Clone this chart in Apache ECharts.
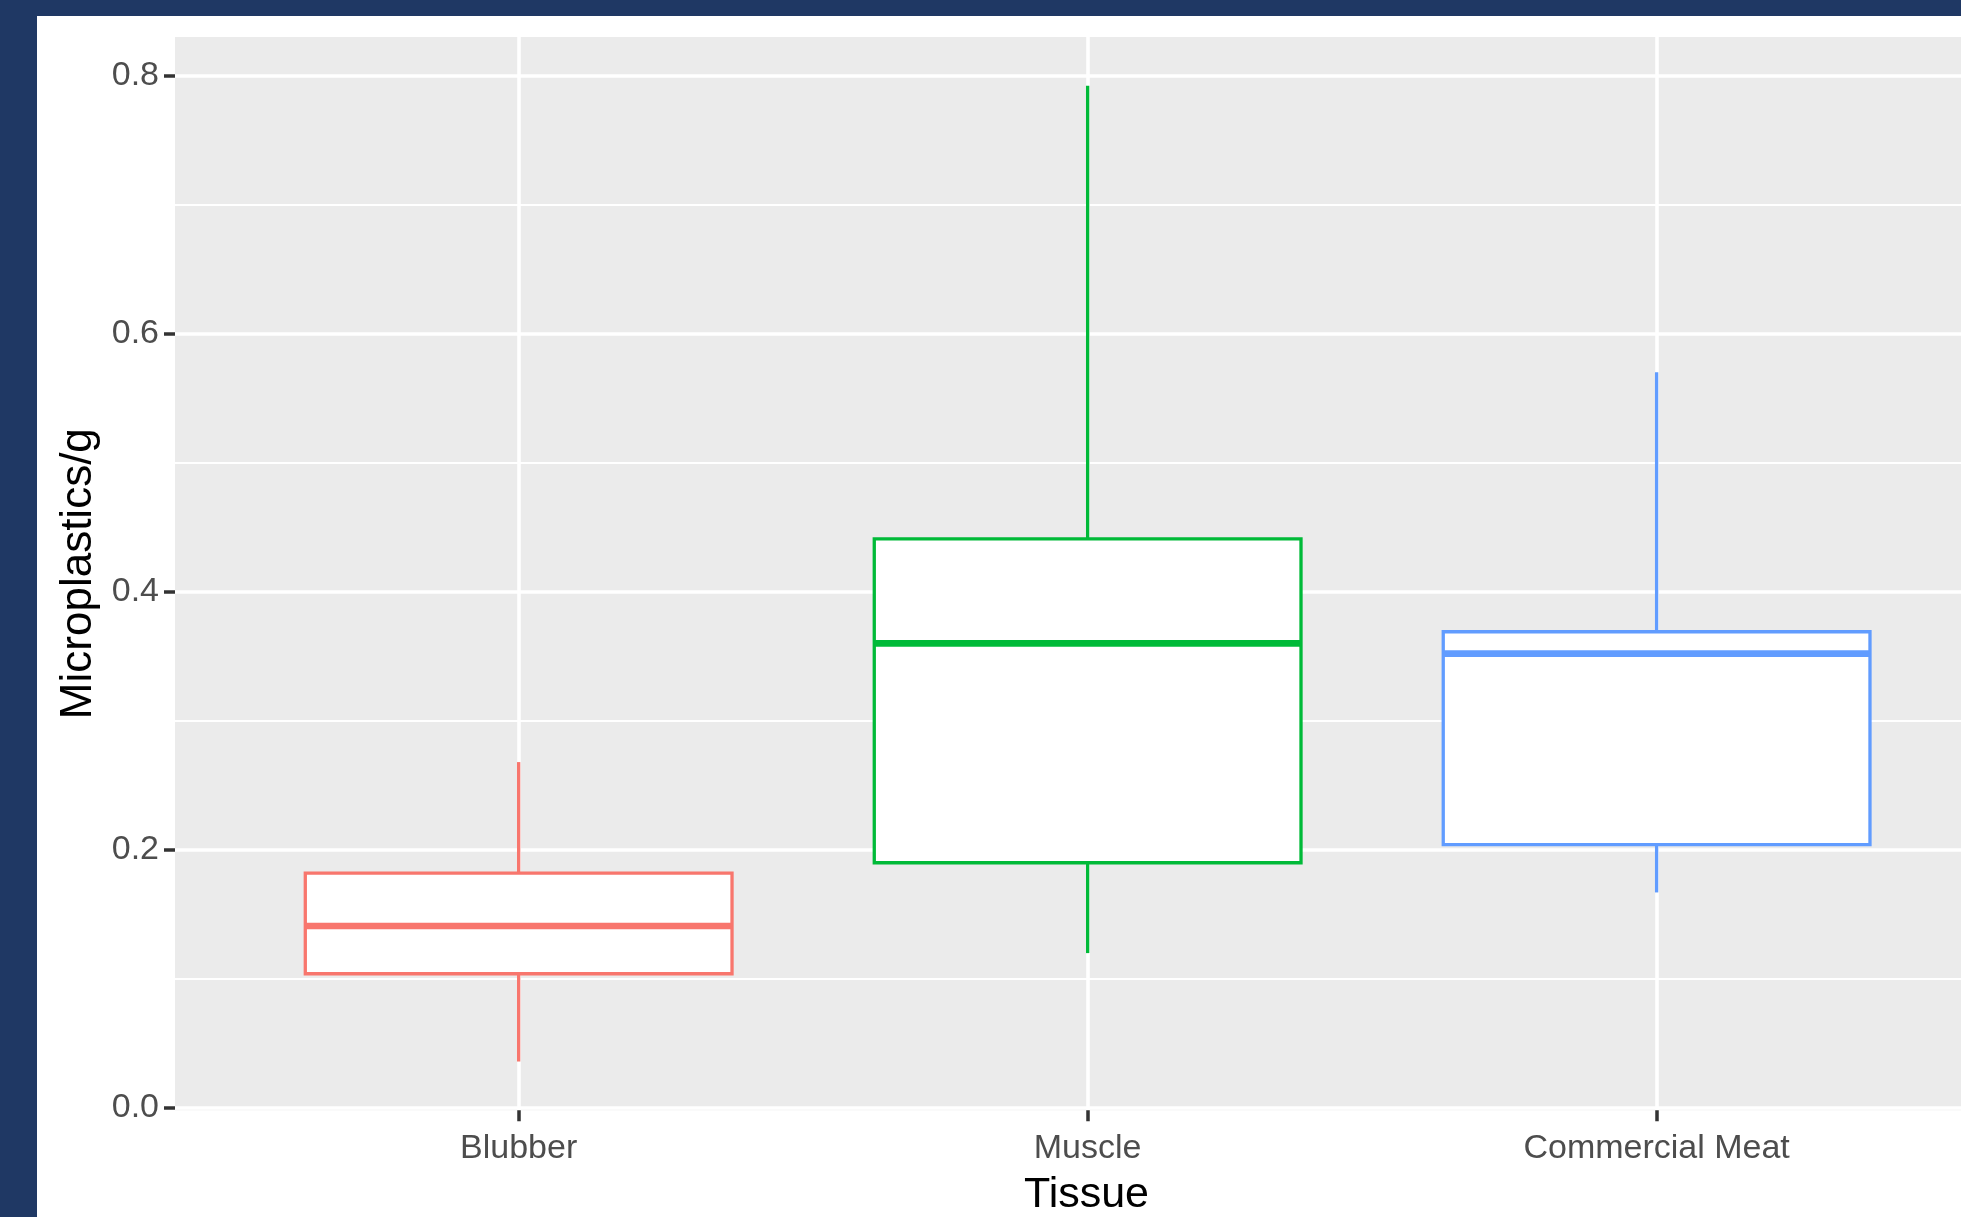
<!DOCTYPE html>
<html>
<head>
<meta charset="utf-8">
<script src="https://cdn.jsdelivr.net/npm/echarts@6/dist/echarts.min.js"></script>
<style>
  html, body { margin: 0; padding: 0; width: 1961px; height: 1217px; overflow: hidden; background: #1F3864; }
  #chart { position: absolute; left: 37px; top: 16px; width: 1990px; height: 1201px; background: #ffffff; }
</style>
</head>
<body>
<div id="chart"></div>
<script>
// ---- data ----
const categories   = ['Blubber', 'Muscle', 'Commercial Meat'];
const whiskerLow   = [0.036, 0.120, 0.167];
const quartile1    = [0.104, 0.190, 0.204];
const medians      = [0.141, 0.360, 0.352];
const quartile3    = [0.182, 0.441, 0.369];
const whiskerHigh  = [0.268, 0.792, 0.570];
const boxColors    = ['#F8766D', '#00BA38', '#619CFF'];
const yTickValues  = [0, 0.2, 0.4, 0.6, 0.8];
const xTickValues  = [0, 1, 2];

const seriesData = categories.map((c, i) =>
  [i, whiskerLow[i], quartile1[i], medians[i], quartile3[i], whiskerHigh[i]]);

const chart = echarts.init(document.getElementById('chart'), null, { renderer: 'canvas' });

const FONT = "'Liberation Sans', Arial, sans-serif";

const option = {
  animation: false,
  backgroundColor: '#ffffff',
  grid: {
    left: 138, top: 21, width: 1823, height: 1073.3,
    show: true, backgroundColor: '#EBEBEB', borderWidth: 0,
    containLabel: false,
    outerBoundsMode: 'none'
  },
  xAxis: {
    type: 'value',
    min: -0.604, max: 2.6,
    name: 'Tissue',
    nameLocation: 'middle',
    nameGap: 63,
    nameTextStyle: { fontFamily: FONT, fontSize: 43, color: '#000000' },
    axisLine: { show: false, onZero: false },
    axisTick: { show: true, length: 11, customValues: xTickValues, lineStyle: { color: '#333333', width: 3.5 } },
    axisLabel: {
      customValues: xTickValues, margin: 21,
      fontFamily: FONT, fontSize: 34, color: '#4D4D4D',
      formatter: v => categories[Math.round(v)] || ''
    },
    splitLine: { show: true, lineStyle: { color: '#ffffff', width: 3.6 } },
    minorSplitLine: { show: false }
  },
  yAxis: {
    type: 'value',
    min: -0.0018, max: 0.8298,
    splitNumber: 4,
    name: 'Microplastics/g',
    nameLocation: 'middle',
    nameGap: 73,
    nameRotate: 90,
    nameTextStyle: { fontFamily: FONT, fontSize: 44, color: '#000000' },
    axisLine: { show: false, onZero: false },
    axisTick: { show: true, length: 11, customValues: yTickValues, lineStyle: { color: '#333333', width: 3.5 } },
    axisLabel: {
      customValues: yTickValues, margin: 16,
      padding: [3, 0, 0, 0],
      fontFamily: FONT, fontSize: 34, color: '#4D4D4D',
      formatter: v => v.toFixed(1)
    },
    splitLine: { show: true, lineStyle: { color: '#ffffff', width: 3.6 } },
    minorTick: { show: false, splitNumber: 2 },
    minorSplitLine: { show: true, lineStyle: { color: '#ffffff', width: 1.8 } }
  },
  series: [{
    type: 'custom',
    data: seriesData,
    encode: { x: 0, y: [1, 2, 3, 4, 5] },
    renderItem: function (params, api) {
      const i = api.value(0);
      const lo = api.coord([i, api.value(1)]);
      const b  = api.coord([i, api.value(2)]);
      const m  = api.coord([i, api.value(3)]);
      const t  = api.coord([i, api.value(4)]);
      const hi = api.coord([i, api.value(5)]);
      const w = api.size([0.75, 0])[0];
      const x = b[0];
      const c = boxColors[i];
      return {
        type: 'group',
        children: [
          { type: 'line', shape: { x1: x, y1: t[1], x2: x, y2: hi[1] }, style: { stroke: c, lineWidth: 3.3 } },
          { type: 'line', shape: { x1: x, y1: b[1], x2: x, y2: lo[1] }, style: { stroke: c, lineWidth: 3.3 } },
          { type: 'rect', shape: { x: x - w / 2, y: t[1], width: w, height: b[1] - t[1] }, style: { fill: '#ffffff', stroke: c, lineWidth: 3.3 } },
          { type: 'line', shape: { x1: x - w / 2, y1: m[1], x2: x + w / 2, y2: m[1] }, style: { stroke: c, lineWidth: 6.7 } }
        ]
      };
    }
  }]
};

chart.setOption(option);
</script>
</body>
</html>
